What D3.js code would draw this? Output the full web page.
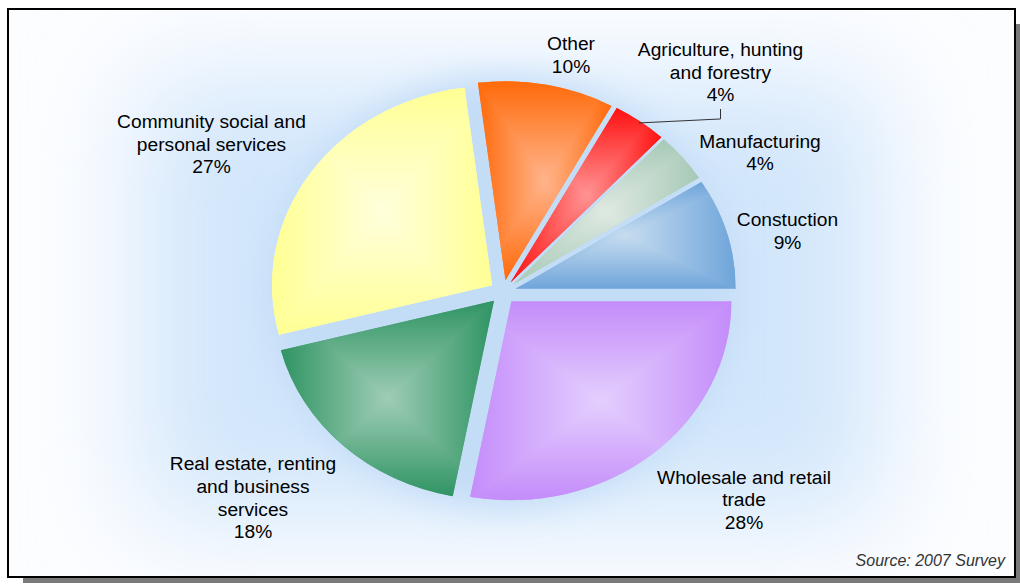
<!DOCTYPE html>
<html>
<head>
<meta charset="utf-8">
<script src="https://cdn.jsdelivr.net/npm/d3@7"></script>
<style>
  html, body { margin: 0; padding: 0; background: #ffffff; }
  svg { display: block; }
  text { font-family: "Liberation Sans", Arial, sans-serif; }
</style>
</head>
<body>
<svg id="chart" width="1020" height="584"></svg>
<script>
// Employment by sector, shares in percent
const categories = [
  "Other",
  "Agriculture, hunting and forestry",
  "Manufacturing",
  "Constuction",
  "Wholesale and retail trade",
  "Real estate, renting and business services",
  "Community social and personal services"
];
const shares = [10, 4, 4, 9, 28, 18, 27];

// Label text broken over lines (percentage line is added from shares)
const labelLines = [
  ["Other"],
  ["Agriculture, hunting", "and forestry"],
  ["Manufacturing"],
  ["Constuction"],
  ["Wholesale and retail", "trade"],
  ["Real estate, renting", "and business", "services"],
  ["Community social and", "personal services"]
];

// Slice colours: rim colour and the lighter centre colour of the fill
const rimColors = ["#ff6a0a", "#ff1010", "#a6c9b6", "#6fa5da", "#c48cfa", "#2f9463", "#ffff94"];
const coreColors = ["#ffb48c", "#ff9494", "#dfe9e2", "#c6dcf0", "#e4cffe", "#9fcdb6", "#ffffdc"];

const sourceNote = "Source: 2007 Survey";

// ---- layout ----
const W = 1020, H = 584;
const cx = 503, cy = 292;
const R = 200;                 // base radius, drawn squashed to an ellipse
const sx = 220 / R, sy = 199 / R;
const explode = 12;
const fontSize = 19.2, lineH = 22.6;

// label block centres (screen coordinates)
const labelAt = [[571, 54.5], [720.5, 72], [760, 152], [787.5, 230.5], [744, 499.5], [253, 497.5], [211.5, 143.7]];

const svg = d3.select("#chart");
const defs = svg.append("defs");

// frame shadow, panel and border
svg.append("rect").attr("x", 23).attr("y", 24).attr("width", W - 23).attr("height", H - 24 - 1)
  .attr("fill", "#7a7a7a");
svg.append("rect").attr("x", 8).attr("y", 9).attr("width", 1007).attr("height", 568)
  .attr("fill", "#fcfdff");

// soft blue haze behind the pie
const haze = defs.append("filter").attr("id", "haze")
  .attr("x", "-50%").attr("y", "-50%").attr("width", "200%").attr("height", "200%");
haze.append("feGaussianBlur").attr("stdDeviation", 55);
const glow = defs.append("filter").attr("id", "glow")
  .attr("x", "-30%").attr("y", "-30%").attr("width", "160%").attr("height", "160%");
glow.append("feGaussianBlur").attr("stdDeviation", 16);

const panelClip = defs.append("clipPath").attr("id", "panelClip");
panelClip.append("rect").attr("x", 9).attr("y", 10).attr("width", 1005).attr("height", 566);

const bg = svg.append("g").attr("clip-path", "url(#panelClip)");
bg.append("rect").attr("x", 140).attr("y", 80).attr("width", 740).attr("height", 440)
  .attr("fill", "#d2e6fb").attr("filter", "url(#haze)");
bg.append("ellipse").attr("cx", cx).attr("cy", cy).attr("rx", 236).attr("ry", 216)
  .attr("fill", "#c4ddf7").attr("filter", "url(#glow)");

svg.append("rect").attr("x", 8).attr("y", 9).attr("width", 1007).attr("height", 568)
  .attr("fill", "none").attr("stroke", "#000").attr("stroke-width", 2);

// ---- pie ----
const a0 = -0.02 * 2 * Math.PI;
const pie = d3.pie().sort(null).value(d => d).startAngle(a0).endAngle(a0 + 2 * Math.PI);
const arcs = pie(shares);
const arc = d3.arc().innerRadius(0).outerRadius(R);

const pieG = svg.append("g");

arcs.forEach((d, i) => {
  const mid = (d.startAngle + d.endAngle) / 2;
  const ox = explode * Math.sin(mid), oy = -explode * Math.cos(mid);
  const g = pieG.append("g")
    .attr("transform", `translate(${cx + ox * sx},${cy + oy * sy}) scale(${sx},${sy})`);

  const pathD = arc(d);
  const clipId = "slice" + i;
  defs.append("clipPath").attr("id", clipId).append("path").attr("d", pathD);

  const base = g.append("path").attr("d", pathD)
    .attr("fill", d3.interpolateRgb(coreColors[i], rimColors[i])(0.6));
  const bb = base.node().getBBox();
  const x0 = bb.x, y0 = bb.y, x1 = bb.x + bb.width, y1 = bb.y + bb.height;
  const mx = (x0 + x1) / 2, my = (y0 + y1) / 2;

  // rectangular "from centre" gradient: four triangles, each with a linear ramp
  const parts = [
    { pts: [[x0, y0], [x1, y0], [mx, my]], to: [mx, y0] },
    { pts: [[x1, y0], [x1, y1], [mx, my]], to: [x1, my] },
    { pts: [[x1, y1], [x0, y1], [mx, my]], to: [mx, y1] },
    { pts: [[x0, y1], [x0, y0], [mx, my]], to: [x0, my] }
  ];
  const sg = g.append("g").attr("clip-path", `url(#${clipId})`);
  parts.forEach((p, k) => {
    const gid = `grad${i}_${k}`;
    const lg = defs.append("linearGradient").attr("id", gid)
      .attr("gradientUnits", "userSpaceOnUse")
      .attr("x1", mx).attr("y1", my).attr("x2", p.to[0]).attr("y2", p.to[1]);
    lg.append("stop").attr("offset", 0).attr("stop-color", coreColors[i]);
    lg.append("stop").attr("offset", 1).attr("stop-color", rimColors[i]);
    sg.append("path")
      .attr("d", "M" + p.pts.map(q => q.join(",")).join("L") + "Z")
      .attr("fill", `url(#${gid})`)
      .attr("stroke", `url(#${gid})`).attr("stroke-width", 0.6);
  });
});

// leader line for the agriculture slice
{
  const d = arcs[1];
  const mid = (d.startAngle + d.endAngle) / 2;
  const r = R + explode - 2;
  const px = cx + r * Math.sin(mid) * sx, py = cy - r * Math.cos(mid) * sy;
  const lx = labelAt[1][0], ly = labelAt[1][1] + 37;
  svg.append("path")
    .attr("d", `M${px},${py}L${lx},${py - 4}L${lx},${ly}`)
    .attr("fill", "none").attr("stroke", "#333").attr("stroke-width", 1);
}

// ---- labels ----
const capHalf = 0.716 * fontSize / 2;
arcs.forEach((d, i) => {
  const lines = labelLines[i].concat([shares[i] + "%"]);
  const [lx, ly] = labelAt[i];
  const top = ly - (lines.length - 1) * lineH / 2;
  const t = svg.append("text")
    .attr("text-anchor", "middle")
    .attr("font-size", fontSize)
    .attr("fill", "#000");
  lines.forEach((s, k) => {
    t.append("tspan").attr("x", lx).attr("y", top + k * lineH + capHalf).text(s);
  });
});

svg.append("text")
  .attr("x", 1005).attr("y", 566)
  .attr("text-anchor", "end")
  .attr("font-size", 16)
  .attr("font-style", "italic")
  .attr("fill", "#333")
  .text(sourceNote);
</script>
</body>
</html>
